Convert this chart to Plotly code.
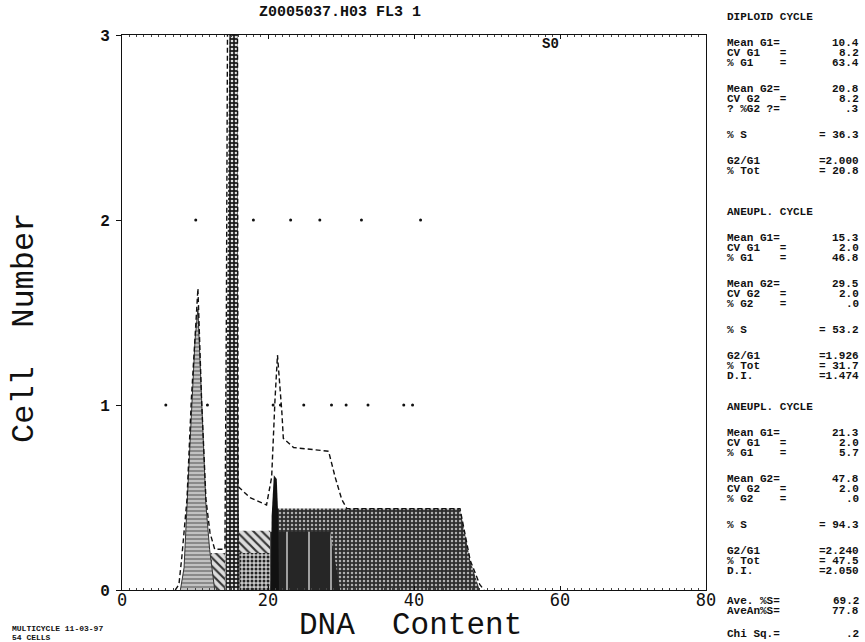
import plotly.graph_objects as go

# ---------------- data ----------------
title_text = "Z0005037.H03 FL3 1"
x_ticks = [0, 20, 40, 60, 80]
y_ticks = [0, 1, 2, 3]

# diploid G1 peak (mean 10.4)
dip_g1_x = [8.0, 8.5, 8.9, 9.5, 10.0, 10.4, 10.9, 11.5, 12.0, 12.4, 12.7]
dip_g1_y = [0.0, 0.12, 0.45, 0.98, 1.35, 1.52, 1.0, 0.46, 0.22, 0.08, 0.0]

# diploid S phase
dip_s_x = [8.0, 9.3, 12.3, 12.3, 14.1, 14.1, 20.3, 20.3]
dip_s_y = [0.0, 0.20, 0.20, 0.0, 0.0, 0.20, 0.20, 0.0]

# aneuploid 1 S phase (hatched)
an1_s_x = [12.3, 12.3, 14.1, 14.1, 20.3, 20.3]
an1_s_y = [0.0, 0.20, 0.20, 0.32, 0.32, 0.0]

# aneuploid 1 S phase overlap (dark)
an1_s2_x = [20.3, 20.3, 28.5, 29.9]
an1_s2_y = [0.0, 0.315, 0.315, 0.0]

# aneuploid 2 S phase
an2_s_x = [20.3, 21.2, 46.3, 47.7, 49.0]
an2_s_y = [0.0, 0.44, 0.44, 0.16, 0.0]

# aneuploid 1 G1 spike (mean 15.3)
an1_g1_x = [14.2, 14.4, 14.8, 15.8, 15.9, 16.1]
an1_g1_y = [0.0, 1.5, 3.5, 3.5, 1.0, 0.0]

# aneuploid 2 G1 spike (mean 21.3)
an2_g1_x = [20.4, 20.5, 20.8, 21.2, 21.4, 21.5]
an2_g1_y = [0.0, 0.40, 0.62, 0.60, 0.40, 0.0]

# total fitted curve (dashed)
tot_x = [7.3, 7.8, 8.2, 8.9, 9.5, 10.0, 10.4, 10.9, 11.5, 12.05, 12.7, 14.1, 14.3, 14.5,
         15.8, 15.9, 17.5, 19.8, 20.3, 20.5, 20.96, 21.3, 21.9, 22.1, 23.5, 28.3, 29.2,
         30.1, 30.8, 46.3, 47.7, 49.0, 49.6]
tot_y = [0.0, 0.03, 0.18, 0.49, 1.03, 1.39, 1.63, 1.03, 0.49, 0.31, 0.22, 0.22, 1.5, 3.5,
         3.5, 0.56, 0.50, 0.46, 0.56, 0.61, 1.03, 1.27, 0.96, 0.82, 0.77, 0.75, 0.61,
         0.49, 0.44, 0.44, 0.16, 0.03, 0.0]

# raw histogram channels with 1 and 2 cells
pts1_x = [6.0, 11.7, 20.7, 21.7, 24.9, 28.7, 30.7, 33.7, 38.6, 39.8]
pts1_y = [1] * len(pts1_x)
pts2_x = [10.1, 18.0, 23.1, 27.1, 32.8, 40.9]
pts2_y = [2] * len(pts2_x)

# statistics panel
panel_headers = ["DIPLOID CYCLE", "ANEUPL. CYCLE", "ANEUPL. CYCLE"]
panel_labels = [
    [["Mean G1=", "CV G1   =", "% G1    ="], ["Mean G2=", "CV G2   =", "? %G2 ?="], ["% S"], ["G2/G1", "% Tot"]],
    [["Mean G1=", "CV G1   =", "% G1    ="], ["Mean G2=", "CV G2   =", "% G2    ="], ["% S"], ["G2/G1", "% Tot", "D.I."]],
    [["Mean G1=", "CV G1   =", "% G1    ="], ["Mean G2=", "CV G2   =", "% G2    ="], ["% S"], ["G2/G1", "% Tot", "D.I."]],
]
panel_values = [
    [["10.4", "8.2", "63.4"], ["20.8", "8.2", ".3"], ["= 36.3"], ["=2.000", "= 20.8"]],
    [["15.3", "2.0", "46.8"], ["29.5", "2.0", ".0"], ["= 53.2"], ["=1.926", "= 31.7", "=1.474"]],
    [["21.3", "2.0", "5.7"], ["47.8", "2.0", ".0"], ["= 94.3"], ["=2.240", "= 47.5", "=2.050"]],
]
footer_labels = [["Ave. %S=", "AveAn%S="], ["Chi Sq.="]]
footer_values = [["69.2", "77.8"], [".2"]]

# ---------------- layout constants ----------------
W, H = 865, 642
PL, PR, PT, PB = 122, 706, 35, 590


def px(xp):
    return (xp - PL) / (PR - PL)


def py(yp):
    return (PB - yp) / (PB - PT)


fig = go.Figure()


def add_poly(xs, ys, pattern=None, color="#888", line_color=None, lw=0):
    kw = dict(x=xs, y=ys, mode="lines", fill="toself", fillcolor=color,
              line=dict(color=line_color or color, width=lw), hoverinfo="skip",
              showlegend=False)
    if pattern:
        kw["fillpattern"] = pattern
    fig.add_trace(go.Scatter(**kw))


# back to front
add_poly(an1_s_x, an1_s_y, dict(shape="\\", fgcolor="#333", bgcolor="#dcdcdc", size=6, solidity=0.35, fillmode="replace"), "#dcdcdc")
add_poly(dip_s_x, dip_s_y, dict(shape=".", fgcolor="#222", bgcolor="#c8c8c8", size=4, solidity=0.45, fillmode="replace"), "#c8c8c8")
add_poly(an2_s_x, an2_s_y, dict(shape=".", fgcolor="#b0b0b0", bgcolor="#2e2e2e", size=4, solidity=0.3, fillmode="replace"), "#2e2e2e")
add_poly(an1_s2_x, an1_s2_y, dict(shape="|", fgcolor="#b0b0b0", bgcolor="#262626", size=22, solidity=0.08, fillmode="replace"), "#262626")
add_poly(dip_g1_x, dip_g1_y, dict(shape="-", fgcolor="#e8e8e8", bgcolor="#8a8a8a", size=4, solidity=0.3, fillmode="replace"), "#8a8a8a", "#333", 1)
add_poly(an1_g1_x, an1_g1_y, dict(shape=".", fgcolor="#e0e0e0", bgcolor="#1a1a1a", size=4, solidity=0.35, fillmode="replace"), "#1a1a1a")
add_poly(an2_g1_x, an2_g1_y, None, "#111")

fig.add_trace(go.Scatter(x=tot_x, y=tot_y, mode="lines",
                         line=dict(color="#111", width=1.4, dash="5px,3px"),
                         hoverinfo="skip", showlegend=False))
fig.add_trace(go.Scatter(x=pts1_x + pts2_x, y=pts1_y + pts2_y, mode="markers",
                         marker=dict(color="#111", size=3), hoverinfo="skip",
                         showlegend=False))

fig.update_layout(
    width=W, height=H,
    margin=dict(l=PL, r=W - PR, t=PT, b=H - PB, pad=0),
    paper_bgcolor="white", plot_bgcolor="white",
    xaxis=dict(range=[0, 80], tickvals=x_ticks, ticktext=[str(v) for v in x_ticks],
               showgrid=False, zeroline=False, showline=True, linecolor="#111",
               linewidth=1, mirror="ticks", ticks="inside", ticklen=4,
               tickcolor="#111", ticklabelstandoff=-5,
               tickfont=dict(family="DejaVu Sans Mono", size=17, color="#111"),
               minor=dict(dtick=1, ticks="inside", ticklen=2, tickcolor="#444")),
    yaxis=dict(range=[0, 3], tickvals=y_ticks, ticktext=[str(v) for v in y_ticks],
               showgrid=False, zeroline=False, showline=True, linecolor="#111",
               linewidth=1, mirror=True, ticks="outside", ticklen=5,
               tickcolor="#111", ticklabelstandoff=3,
               tickfont=dict(family="Liberation Mono", size=16, color="#111",
                             weight="bold")),
)

ann = []
mono_b = dict(family="Liberation Mono", size=11, color="#111", weight="bold")


def text(xp, yp, t, font, xanchor="left", textangle=0):
    ann.append(dict(x=px(xp), y=py(yp), xref="paper", yref="paper", text=t,
                    showarrow=False, xanchor=xanchor, yanchor="middle",
                    font=font, textangle=textangle))


# title, axis titles, S0 label
text(340, 13, title_text, dict(family="Liberation Mono", size=15, color="#111", weight="bold"), "center")
text(550, 44, "S0", dict(family="Liberation Mono", size=14, color="#111", weight="bold"), "center")
text(410, 625, "DNA\u00a0\u00a0Content", dict(family="Liberation Mono", size=31, color="#111"), "center")
text(25, 328, "Cell\u00a0\u00a0Number", dict(family="Liberation Mono", size=32, color="#111"), "center", -90)
text(10, 628, "MULTICYCLE 11-03-97", dict(family="Liberation Mono", size=8, color="#111", weight="bold"))
text(10, 637, "54 CELLS", dict(family="Liberation Mono", size=8, color="#111", weight="bold"))

# statistics panel
LX, RX = 725, 861
header_y = [17, 212, 407]
GAP, PITCH = 26, 10
last_y = 0
for s, hy in enumerate(header_y):
    text(LX, hy, panel_headers[s], mono_b)
    cur = hy
    for blab, bval in zip(panel_labels[s], panel_values[s]):
        cur += GAP
        for i, (lab, val) in enumerate(zip(blab, bval)):
            if i > 0:
                cur += PITCH
            text(LX, cur, lab.replace(" ", "\u00a0"), mono_b)
            text(RX, cur, val.replace(" ", "\u00a0"), mono_b, "right")
    last_y = cur
footer_gaps = [30, 23]
cur = last_y
for g, blab, bval in zip(footer_gaps, footer_labels, footer_values):
    cur += g
    for i, (lab, val) in enumerate(zip(blab, bval)):
        if i > 0:
            cur += PITCH
        text(LX, cur, lab.replace(" ", "\u00a0"), mono_b)
        text(RX, cur, val.replace(" ", "\u00a0"), mono_b, "right")

fig.update_layout(annotations=ann)
fig.write_html("out.html")
